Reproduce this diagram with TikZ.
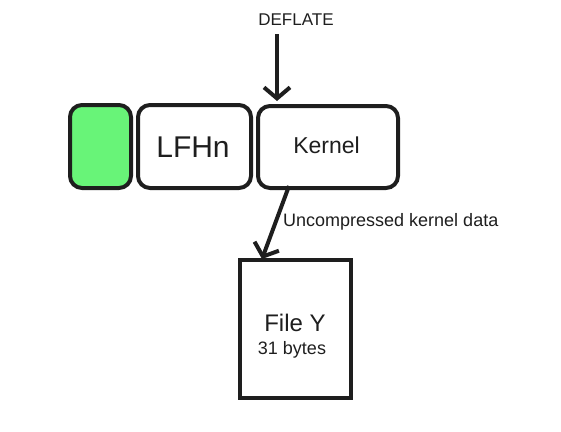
\documentclass[tikz,border=0pt]{standalone}
\usepackage{fontspec}
\setmainfont{Liberation Sans}
\usetikzlibrary{arrows.meta}
\definecolor{ink}{RGB}{30,30,30}
\definecolor{boxgreen}{RGB}{104,244,120}
\begin{document}
\begin{tikzpicture}[x=1pt,y=-1pt,
  blk/.style={draw=ink, line width=4pt, rounded corners=12pt, inner sep=0pt},
  filebox/.style={draw=ink, line width=4pt, inner sep=0pt},
  arr/.style={draw=ink, line width=4pt, -{Straight Barb[length=11pt,width=26pt,line width=4pt]}},
  lbl/.style={inner sep=0pt, text=ink}]
\useasboundingbox (0,0) rectangle (561,431);
% boxes
\node[blk, fill=boxgreen, minimum width=61pt, minimum height=83pt] (hdr) at (100.5,146.5) {};
\node[blk, minimum width=113pt, minimum height=83pt] (lfh) at (194.5,146.5) {};
\node[lbl, font=\fontsize{30}{31}\selectfont] (lfhtxt) at (193,147) {LFHn};
\node[blk, minimum width=140pt, minimum height=82pt] (kernel) at (328,147) {};
\node[lbl, font=\fontsize{23}{25}\selectfont] (kerneltxt) at (326.5,145) {Kernel};
\node[filebox, minimum width=111pt, minimum height=138pt] (filey) at (295.5,329) {};
\node[lbl, font=\fontsize{24}{26}\selectfont] (fileytxt) at (295,323) {File Y};
\node[lbl, font=\fontsize{18}{20}\selectfont] (bytes) at (292,350) {31 bytes};
% labels
\node[lbl, font=\fontsize{17}{19}\selectfont] (deflate) at (296,20) {DEFLATE};
\node[lbl, anchor=west, font=\fontsize{18}{20}\selectfont] (uncomp) at (283,222) {Uncompressed kernel data};
% arrows
\coordinate (d1) at (277,34);
\coordinate (d2) at (277,101);
\draw[arr] (d1) -- (d2);
\coordinate (u1) at (289,186);
\coordinate (u2) at (262,259);
\draw[arr] (u1) -- (u2);
\end{tikzpicture}
\end{document}
